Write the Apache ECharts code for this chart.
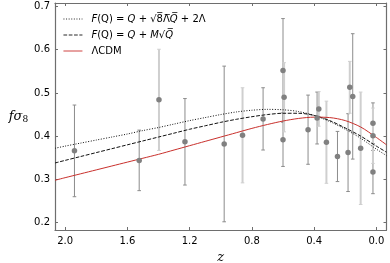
<!DOCTYPE html>
<html>
<head>
<meta charset="utf-8">
<script src="https://cdn.jsdelivr.net/npm/echarts@6/dist/echarts.min.js"></script>
<style>html,body{margin:0;padding:0;background:#fff}#c{width:390px;height:263px}</style>
</head>
<body>
<div id="c"></div>
<script>
// ---- data ----
const xTicks = [0.0, 0.4, 0.8, 1.2, 1.6, 2.0];
const yTicks = [0.2, 0.3, 0.4, 0.5, 0.6, 0.7];

const zCurve = [2.065, 2.0, 1.9, 1.8, 1.7, 1.6, 1.5, 1.4, 1.3, 1.2, 1.1, 1.0, 0.9, 0.8, 0.7, 0.6, 0.5, 0.4, 0.3, 0.2, 0.1, 0.0, -0.065];
const fSqrt  = [0.372, 0.377, 0.384, 0.391, 0.398, 0.405, 0.413, 0.420, 0.428, 0.436, 0.443, 0.450, 0.456, 0.460, 0.462, 0.461, 0.457, 0.448, 0.434, 0.416, 0.395, 0.370, 0.355];
const fMsqrt = [0.338, 0.344, 0.353, 0.362, 0.371, 0.380, 0.389, 0.398, 0.407, 0.416, 0.424, 0.432, 0.439, 0.445, 0.450, 0.453, 0.453, 0.448, 0.436, 0.419, 0.400, 0.377, 0.363];
const fLCDM  = [0.298, 0.304, 0.313, 0.322, 0.331, 0.340, 0.349, 0.358, 0.368, 0.378, 0.388, 0.398, 0.408, 0.418, 0.427, 0.435, 0.441, 0.444, 0.443, 0.436, 0.421, 0.397, 0.380];

const zDark = [1.940, 1.524, 1.230, 0.978, 0.728, 0.600, 0.600, 0.439, 0.381, 0.250, 0.182, 0.152, 0.022, 0.022];
const fDark = [0.366, 0.344, 0.387, 0.382, 0.440, 0.552, 0.392, 0.415, 0.442, 0.353, 0.362, 0.492, 0.430, 0.317];
const eDark = [0.106, 0.070, 0.100, 0.180, 0.072, 0.120, 0.062, 0.080, 0.060, 0.058, 0.090, 0.145, 0.047, 0.050];

const zLight = [1.397, 0.860, 0.593, 0.370, 0.321, 0.171, 0.101, 0.022];
const fLight = [0.484, 0.402, 0.490, 0.463, 0.386, 0.513, 0.372, 0.401];
const eLight = [0.117, 0.110, 0.080, 0.040, 0.095, 0.060, 0.130, 0.064];

const names = ['sqrt', 'msqrt', 'lcdm'];

// ---- build ----
const pair = (xs, ys) => xs.map((x, i) => [x, ys[i]]);
const errData = (xs, ys, es) => xs.map((x, i) => [x, ys[i], es[i]]);

function errRender(color, width) {
  return function (params, api) {
    const x = api.value(0), y = api.value(1), e = api.value(2);
    const top = api.coord([x, y + e]);
    const bot = api.coord([x, y - e]);
    const cw = 1.8;
    const st = {stroke: color, lineWidth: width};
    return {
      type: 'group',
      children: [
        {type: 'line', shape: {x1: top[0], y1: top[1], x2: bot[0], y2: bot[1]}, style: st},
        {type: 'line', shape: {x1: top[0] - cw, y1: top[1], x2: top[0] + cw, y2: top[1]}, style: {stroke: color, lineWidth: 1}},
        {type: 'line', shape: {x1: bot[0] - cw, y1: bot[1], x2: bot[0] + cw, y2: bot[1]}, style: {stroke: color, lineWidth: 1}}
      ]
    };
  };
}

const spine = '#6e6e6e';
const font = 'DejaVu Sans';

const xAxisBase = {
  type: 'value', inverse: true, min: -0.065, max: 2.065,
  axisLine: {show: true, onZero: false, lineStyle: {color: spine, width: 1.2}},
  axisTick: {show: true, inside: true, length: 3, customValues: xTicks, lineStyle: {color: spine}},
  splitLine: {show: false}
};
const yAxisBase = {
  type: 'value', min: 0.183, max: 0.708,
  axisLine: {show: true, onZero: false, lineStyle: {color: spine, width: 1.2}},
  axisTick: {show: true, inside: true, length: 3, customValues: yTicks, lineStyle: {color: spine}},
  splitLine: {show: false}
};

const option = {
  animation: false,
  backgroundColor: '#fff',
  grid: {left: 55, right: 3.5, top: 3, bottom: 33, outerBoundsMode: 'none', containLabel: false},
  legend: {
    left: 63, top: 13, orient: 'vertical', padding: 0,
    itemWidth: 19, itemHeight: 10, itemGap: 4,
    data: names,
    itemStyle: {opacity: 0},
    lineStyle: {width: 0.9},
    textStyle: {
      fontFamily: font, fontSize: 10, color: '#000', lineHeight: 12, padding: [0, 0, 0, 4],
      rich: {
        i: {fontFamily: font, fontSize: 10, fontStyle: 'italic', color: '#000'},
        o: {fontFamily: font, fontSize: 10, color: '#000'},
        oi: {fontFamily: font, fontSize: 10, fontStyle: 'italic', color: '#000'}
      }
    },
    formatter: function (n) {
      if (n === 'sqrt') return '{i|F}(Q) = {i|Q} + √{o|8\u0305Λ\u0305}{oi|Q\u0305} + 2Λ';
      if (n === 'msqrt') return '{i|F}(Q) = {i|Q} + {i|M}√{oi|Q\u0305}';
      return 'ΛCDM';
    }
  },
  xAxis: [
    Object.assign({}, xAxisBase, {
      position: 'bottom',
      name: 'z', nameLocation: 'middle', nameGap: 18,
      nameTextStyle: {fontFamily: 'DejaVu Serif', fontStyle: 'italic', fontSize: 13, color: '#000'},
      axisLabel: {show: true, customValues: xTicks, margin: 6, fontFamily: font, fontSize: 10, color: '#000',
        formatter: v => v.toFixed(1)}
    }),
    Object.assign({}, xAxisBase, {position: 'top', axisLabel: {show: false}})
  ],
  yAxis: [
    Object.assign({}, yAxisBase, {
      position: 'left',
      name: '{a|fσ}{s|8}', nameLocation: 'middle', nameGap: 20, nameRotate: 0,
      nameTextStyle: {
        rich: {
          a: {fontFamily: 'DejaVu Serif', fontStyle: 'italic', fontSize: 13, color: '#000', verticalAlign: 'middle'},
          s: {fontFamily: 'DejaVu Serif', fontSize: 9, color: '#000', verticalAlign: 'bottom', padding: [6, 0, 0, 0]}
        }
      },
      axisLabel: {show: true, customValues: yTicks, margin: 5, fontFamily: font, fontSize: 10, color: '#000',
        formatter: v => v.toFixed(1)}
    }),
    Object.assign({}, yAxisBase, {position: 'right', axisLabel: {show: false}})
  ],
  series: [
    {type: 'custom', name: 'errD', xAxisIndex: 0, yAxisIndex: 0, z: 1, silent: true,
      renderItem: errRender('#8c8c8c', 1), data: errData(zDark, fDark, eDark)},
    {type: 'custom', name: 'errL', xAxisIndex: 0, yAxisIndex: 0, z: 1, silent: true,
      renderItem: errRender('#cfcfcf', 2), data: errData(zLight, fLight, eLight)},
    {type: 'line', name: 'sqrt', z: 2, symbol: 'none', smooth: 0.3,
      lineStyle: {color: '#111', width: 1, type: [1, 1.6]}, itemStyle: {color: '#111'},
      data: pair(zCurve, fSqrt)},
    {type: 'line', name: 'msqrt', z: 2, symbol: 'none', smooth: 0.3,
      lineStyle: {color: '#111', width: 1, type: [3.7, 1.6]}, itemStyle: {color: '#111'},
      data: pair(zCurve, fMsqrt)},
    {type: 'line', name: 'lcdm', z: 2, symbol: 'none', smooth: 0.3,
      lineStyle: {color: '#c9302c', width: 1}, itemStyle: {color: '#c9302c'},
      data: pair(zCurve, fLCDM)},
    {type: 'scatter', name: 'ptsD', z: 3, symbol: 'circle', symbolSize: 5.5,
      itemStyle: {color: '#808080', opacity: 1}, data: pair(zDark, fDark)},
    {type: 'scatter', name: 'ptsL', z: 3, symbol: 'circle', symbolSize: 5.5,
      itemStyle: {color: '#808080', opacity: 1}, data: pair(zLight, fLight)}
  ]
};

const chart = echarts.init(document.getElementById('c'), null, {renderer: 'canvas'});
chart.setOption(option);
</script>
</body>
</html>
